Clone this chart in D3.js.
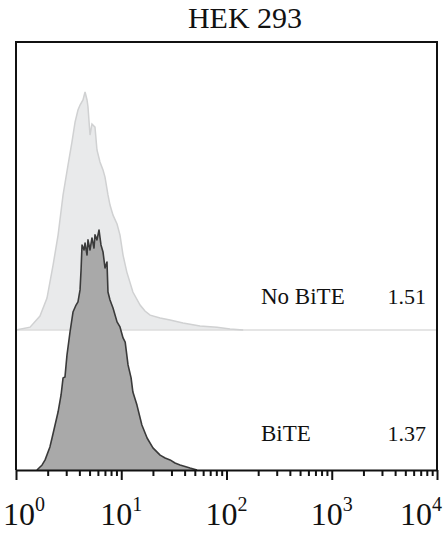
<!DOCTYPE html>
<html>
<head>
<meta charset="utf-8">
<script src="https://cdn.jsdelivr.net/npm/d3@7"></script>
<style>
  html, body { margin: 0; padding: 0; background: #fff; }
  svg { display: block; }
  text { font-family: "Liberation Serif", "Times New Roman", serif; fill: #111; }
</style>
</head>
<body>
<div id="graph"></div>
<script>
// No BiTE histogram (fluorescence, counts) - drawn offset above the BiTE one
const noBiteX = [1.00, 1.36, 1.69, 1.97, 2.25, 2.51, 2.80, 3.12, 3.40, 3.64, 3.88, 4.06, 4.33, 4.53, 4.73, 4.83,
  5.05, 5.27, 5.63, 5.88, 6.28, 6.71, 7.01, 7.48, 7.82, 8.35, 9.12, 9.73, 10.4, 11.3, 12.9, 15.1, 16.8, 18.8,
  23.4, 29.1, 38.6, 56.0, 81.3, 108, 144];
const noBiteY = [0, 1.2, 5.8, 13.3, 27.0, 39.5, 56.2, 68.6, 78.2, 86.5, 91.5, 93.6, 95.7, 99.0, 95.7, 92.8,
  81.1, 85.7, 84.4, 74.9, 69.9, 66.6, 63.6, 56.2, 52.0, 47.8, 44.1, 39.5, 31.2, 24.1, 15.8, 10.4, 7.9, 6.2,
  5.0, 4.2, 2.9, 1.7, 1.2, 0.4, 0];

// BiTE histogram
const biteX = [1.58, 1.77, 1.89, 2.10, 2.20, 2.35, 2.51, 2.68, 2.80, 2.92, 3.05, 3.26, 3.48, 3.72, 3.88, 4.06,
  4.15, 4.24, 4.43, 4.53, 4.73, 4.83, 5.05, 5.27, 5.51, 5.63, 5.88, 6.15, 6.42, 6.71, 7.01, 7.32, 7.48, 7.82,
  8.35, 9.12, 9.73, 10.4, 10.9, 11.6, 12.4, 12.9, 14.1, 15.7, 17.6, 20.0, 23.4, 26.1, 29.1, 32.4, 36.2, 45.0, 52.5];
const biteY = [0, 2.1, 4.2, 9.6, 13.3, 18.7, 24.1, 31.2, 38.3, 38.7, 47.8, 57.4, 65.7, 68.6, 69.9, 74.9,
  83.2, 93.6, 91.5, 94.4, 89.4, 95.7, 91.5, 96.5, 92.3, 97.8, 95.7, 99.8, 93.6, 90.7, 84.0, 86.5, 74.0, 70.7,
  67.4, 61.6, 59.5, 54.9, 53.2, 43.7, 38.3, 32.4, 27.0, 18.7, 13.3, 9.2, 6.2, 5.0, 4.2, 2.9, 2.1, 0.8, 0];

const decades = [1, 10, 100, 1000, 10000];
const decadeExp = ["0", "1", "2", "3", "4"];
const groupLabels = ["No BiTE", "BiTE"];
const groupValues = ["1.51", "1.37"];
const noBiteOffset = 58.2;
const title = "HEK 293";

const w = 445, h = 536;
const margin = {top: 42, right: 8, bottom: 66, left: 16};
const innerWidth = w - margin.left - margin.right;
const innerHeight = h - margin.top - margin.bottom;

const svg = d3.select("#graph")
  .append("svg")
  .attr("width", w)
  .attr("height", h);

// title
svg.append("text")
  .attr("x", 245)
  .attr("y", 28)
  .attr("text-anchor", "middle")
  .style("font-size", "30px")
  .text(title);

const g = svg.append("g")
  .attr("transform", `translate(${margin.left},${margin.top})`);

// scales
const xScale = d3.scaleLog()
  .domain([1, 10000])
  .range([0, innerWidth]);
const yScale = d3.scaleLinear()
  .domain([0, 178])
  .range([innerHeight, 0]);

// area + line generators
const area = d3.area()
  .x(d => xScale(d[0]))
  .y0(d => yScale(d[2]))
  .y1(d => yScale(d[1] + d[2]));
const line = d3.line()
  .x(d => xScale(d[0]))
  .y(d => yScale(d[1] + d[2]));

const noBiteData = noBiteX.map((x, i) => [x, noBiteY[i], noBiteOffset]);
const biteData = biteX.map((x, i) => [x, biteY[i], 0]);

// No BiTE (light, offset)
g.append("path")
  .attr("d", area(noBiteData))
  .attr("fill", "#e9eaeb");
g.append("line")
  .attr("x1", xScale(1))
  .attr("x2", xScale(10000))
  .attr("y1", yScale(noBiteOffset))
  .attr("y2", yScale(noBiteOffset))
  .attr("stroke", "#dcdddd")
  .attr("stroke-width", 1.5);
g.append("path")
  .attr("d", line(noBiteData))
  .attr("fill", "none")
  .attr("stroke", "#d0d1d2")
  .attr("stroke-width", 1.5);

// BiTE (dark)
g.append("path")
  .attr("d", area(biteData))
  .attr("fill", "#a9a9a9");
g.append("path")
  .attr("d", line(biteData))
  .attr("fill", "none")
  .attr("stroke", "#3a3a3a")
  .attr("stroke-width", 1.6)
  .attr("stroke-linejoin", "round");

// frame: left, top, right
g.append("path")
  .attr("d", `M0,${innerHeight}V0H${innerWidth}V${innerHeight}`)
  .attr("fill", "none")
  .attr("stroke", "#111")
  .attr("stroke-width", 2);

// minor ticks
const minors = [];
decades.slice(0, -1).forEach(d => { for (let k = 2; k <= 9; k++) minors.push(d * k); });
const minorAxis = d3.axisBottom(xScale)
  .tickValues(minors)
  .tickSize(6)
  .tickSizeOuter(0);
g.append("g")
  .attr("transform", `translate(0, ${innerHeight})`)
  .call(minorAxis)
  .call(s => s.selectAll("line").attr("stroke", "#111").attr("stroke-width", 2))
  .call(s => s.selectAll("text").remove())
  .call(s => s.select(".domain").remove());

// major ticks + axis line
const xAxis = d3.axisBottom(xScale)
  .tickValues(decades)
  .tickSize(10)
  .tickSizeOuter(0);
const xAxisG = g.append("g")
  .attr("transform", `translate(0, ${innerHeight})`)
  .call(xAxis);
xAxisG.selectAll("text").remove();
xAxisG.selectAll("line").attr("stroke", "#111").attr("stroke-width", 2);
xAxisG.select(".domain").attr("stroke", "#111").attr("stroke-width", 2.2);

// tick labels 10^n, kept inside the picture
decades.forEach((d, i) => {
  const t = svg.append("text")
    .attr("x", margin.left + xScale(d))
    .attr("y", 525)
    .attr("text-anchor", "middle")
    .style("font-size", "32px");
  t.append("tspan").text("10");
  t.append("tspan")
    .attr("dy", -14)
    .style("font-size", "20px")
    .text(decadeExp[i]);
  const b = t.node().getBBox();
  let shift = 0;
  if (b.x < 3) shift = 3 - b.x;
  if (b.x + b.width > w - 3) shift = (w - 3) - (b.x + b.width);
  t.attr("x", margin.left + xScale(d) + shift);
});

// group labels and values
const labelY = [304, 441];
groupLabels.forEach((lab, i) => {
  svg.append("text")
    .attr("x", 261)
    .attr("y", labelY[i])
    .style("font-size", "23px")
    .text(lab);
  svg.append("text")
    .attr("x", 426)
    .attr("y", labelY[i])
    .attr("text-anchor", "end")
    .style("font-size", "22px")
    .text(groupValues[i]);
});
</script>
</body>
</html>
